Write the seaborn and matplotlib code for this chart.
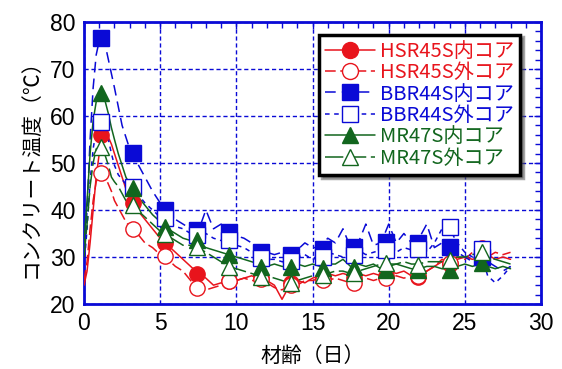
import matplotlib
matplotlib.use("Agg")
import matplotlib.pyplot as plt
from matplotlib.lines import Line2D
from matplotlib.ticker import MultipleLocator
from matplotlib import font_manager
import seaborn as sns
import numpy as np

# ---- data ----
t = [0.0, 0.2, 0.4, 0.6, 0.8, 1.0, 1.2, 1.4, 1.6, 1.8, 2.0, 2.25, 2.5, 2.75, 3.0,
     3.5, 4.0, 4.5, 5.0, 5.5, 6.0, 6.5, 7.0, 7.5, 8.0, 8.5, 9.0, 9.5, 10.0,
     10.5, 11.0, 11.5, 12.0, 12.5, 13.0, 13.5, 14.0, 14.5, 15.0, 15.5, 16.0,
     16.5, 17.0, 17.5, 18.0, 18.5, 19.0, 19.5, 20.0, 20.5, 21.0, 21.5, 22.0,
     22.5, 23.0, 23.5, 24.0, 24.5, 25.0, 25.5, 26.0, 26.5, 27.0, 27.5, 28.0]

hsr_in = [24, 27, 33, 40, 47, 52, 55, 56, 55.5, 54, 52, 49.5, 47, 44.5, 42.5,
          40, 38, 36, 34, 32.5, 31, 29.5, 28, 26.5, 25.5, 24, 24.5, 24.5, 25,
          25.5, 26, 25.5, 25, 24, 21, 24, 25, 24.5, 25.5, 26, 26.5,
          26, 26.5, 26, 26.5, 26, 26.5, 26, 27, 26.5, 27, 26, 26,
          27, 28, 29, 29, 29.5, 30, 29.5, 30, 30.5, 29.5, 30, 29.5]
hsr_out = [25, 29, 36, 42, 46, 47.5, 48, 47, 45.5, 44, 42, 40.5, 39, 37.5, 36.5,
           35, 33, 32, 30.5, 29.5, 28, 27, 25, 23.5, 23, 23.5, 24, 24.5, 25,
           25.5, 25, 25, 24.5, 23.5, 23, 24, 24, 25, 25, 25.5, 25,
           25.5, 25, 24.5, 25, 25.5, 25, 25.5, 25, 26, 25.5, 26, 26.5,
           27, 28, 29.5, 29, 30, 29.5, 31, 31.5, 30, 31, 30.5, 31]
bbr_in = [30, 40, 55, 66, 73, 76, 76.5, 75, 72, 69, 66, 62, 58, 55.5, 53,
          50, 47, 44, 41.5, 39.5, 38, 37, 36, 35.5, 40, 36, 37, 35.5, 34.5,
          34, 33, 31.5, 31, 30.5, 31, 30.5, 31.5, 33, 32, 32, 34,
          33, 36, 32, 33, 37, 32.5, 33, 37, 33, 35, 33, 34,
          37, 32, 33, 32, 31, 30, 29, 30, 29, 28, 27, 28]
bbr_out = [28, 36, 46, 53, 57, 58.5, 58.8, 57.5, 55, 52, 49.5, 47.5, 46.5, 45.5, 45,
           43.5, 41.5, 40, 38.5, 37.5, 36.5, 36, 35, 34.5, 35, 34, 33.5, 33.5, 32.5,
           32, 31, 30, 29.5, 29.5, 29, 29, 30, 30.5, 29.5, 30, 31,
           30.5, 30, 30.5, 31.5, 30.5, 31, 31.5, 31.5, 31, 32, 31.5, 32,
           31, 33, 36, 36, 33, 31, 30, 31.5, 26, 24.5, 26, 28]
mr_in = [33, 42, 52, 59, 63, 64.5, 64.8, 63, 60.5, 57.5, 55, 52, 49.5, 47, 45.5,
         43, 41, 39, 37.5, 36, 35, 34, 33.5, 33, 32, 31.5, 31, 30.5, 30,
         29.5, 29, 28.5, 28, 28.5, 28, 28, 28.5, 28, 28.5, 28, 28.5,
         28.5, 29.5, 28, 28.5, 28, 28.5, 27.5, 28, 28.5, 28, 27.5, 27.5,
         28, 28, 27.5, 27.5, 28, 28.5, 28, 28.5, 28, 27.5, 28, 27.5]
mr_out = [30, 37, 45, 50, 53, 53.5, 53, 51.5, 49.5, 47, 46, 45, 43.5, 42, 41.5,
          40, 38.5, 37, 35.5, 34.5, 33.5, 32.5, 32.5, 32, 31, 30, 29, 28, 27.5,
          27, 26.5, 26, 26, 25.5, 25, 24.5, 25, 25.5, 26, 26, 26.5,
          27, 27, 26.5, 27, 27.5, 28, 28.5, 28.5, 28.5, 29, 28.5, 28.5,
          29, 29, 29, 29.5, 30, 30, 30.5, 31, 30, 29.5, 29, 28.5]

mday = [1.1, 3.2, 5.3, 7.4, 9.5, 11.6, 13.6, 15.7, 17.7, 19.8, 21.9, 24.0, 26.1]
hsr_in_m = [56, 41.4, 33, 26.4, 25, 25.5, 24.5, 25.5, 25.5, 26, 25.8, 28.5, 30]
hsr_out_m = [47.8, 35.9, 30.2, 23.5, 25, 25.3, 24, 25.1, 24.4, 25.5, 26, 28.8, 32]
bbr_in_m = [76.7, 52.2, 40, 35.7, 35.4, 31.1, 30.4, 31.8, 32.2, 33.2, 32.9, 32.2, 30]
bbr_out_m = [58.8, 45, 38.3, 34.7, 33.6, 29.8, 29.2, 30.1, 30.4, 31.5, 31.8, 36.4, 31.8]
mr_in_m = [64.8, 44.6, 36.4, 33.6, 30.4, 27.9, 27.9, 27.6, 27.8, 27.2, 27.2, 27.2, 28.7]
mr_out_m = [53.5, 41, 35, 32.1, 27.9, 25.8, 24.5, 26.2, 26.5, 28.7, 28.3, 29.4, 31.1]

labels = ["HSR45S内コア", "HSR45S外コア", "BBR44S内コア", "BBR44S外コア", "MR47S内コア", "MR47S外コア"]
xticks = [0, 5, 10, 15, 20, 25, 30]
yticks = [20, 30, 40, 50, 60, 70, 80]

RED, BLUE, GREEN = "#e8141c", "#0a0ad6", "#12661e"
series = [
    (hsr_in, hsr_in_m, RED, "-", "o", True),
    (hsr_out, hsr_out_m, RED, (0, (7, 3)), "o", False),
    (bbr_in, bbr_in_m, BLUE, (0, (7, 4)), "s", True),
    (bbr_out, bbr_out_m, BLUE, (0, (3, 3)), "s", False),
    (mr_in, mr_in_m, GREEN, "-", "^", True),
    (mr_out, mr_out_m, GREEN, (0, (12, 3)), "^", False),
]

sns.set_style("white")
plt.rcParams["font.family"] = ["Noto Sans CJK JP", "DejaVu Sans"]
plt.rcParams["text.color"] = "black"
plt.rcParams["axes.labelcolor"] = "black"

names = {f.name for f in font_manager.fontManager.ttflist}
tickfam = [n for n in ["Liberation Sans Narrow", "Liberation Sans", "DejaVu Sans"] if n in names]

fig = plt.figure(figsize=(5.62, 3.69), dpi=100)
ax = fig.add_axes([84 / 562, 1 - 304 / 369, 457 / 562, 282 / 369])

for vals, _, c, ls, _, _ in series:
    sns.lineplot(x=t, y=vals, color=c, linestyle=ls, linewidth=1.1, ax=ax, zorder=3)

for _, mv, c, _, mk, filled in series:
    ms = 11 if mk != "^" else 11.5
    sns.lineplot(x=mday, y=mv, color=c, linestyle="", marker=mk, markersize=ms,
                 markerfacecolor=(c if filled else "white"), markeredgecolor=c,
                 markeredgewidth=1.0, ax=ax, zorder=4)

ax.set_xlim(0, 30)
ax.set_ylim(20, 80)
ax.set_xticks(xticks)
ax.set_yticks(yticks)
ax.set_xticklabels([str(v) for v in xticks], fontfamily=tickfam, fontsize=16.5, color="black")
ax.set_yticklabels([str(v) for v in yticks], fontfamily=tickfam, fontsize=16.5, color="black")
ax.xaxis.set_minor_locator(MultipleLocator(1))
ax.yaxis.set_minor_locator(MultipleLocator(2))
ax.grid(True, which="major", color=BLUE, linestyle=(0, (3, 2)), linewidth=1.0)
ax.tick_params(which="both", direction="in", top=True, right=True, color=BLUE, width=1.0,
               labelcolor="black")
ax.tick_params(which="major", length=5, pad=6)
ax.tick_params(which="minor", length=4)
for s in ax.spines.values():
    s.set_color(BLUE)
    s.set_linewidth(2.0)

ax.set_xlabel("材齢（日）", fontsize=15, labelpad=7, color="black")
ax.set_ylabel("コンクリート温度（℃）", fontsize=15, labelpad=6, color="black")

handles = []
for _, _, c, ls, mk, filled in series:
    handles.append(Line2D([0], [0], color=c, linestyle=ls, linewidth=1.1, marker=mk,
                          markersize=11.5, markerfacecolor=(c if filled else "white"),
                          markeredgecolor=c, markeredgewidth=1.0))
leg = ax.legend(handles, labels, loc="upper right", bbox_to_anchor=(0.955, 0.955),
                fontsize=14.5, frameon=True, fancybox=False, shadow=True,
                handlelength=2.5, handletextpad=0.25, labelspacing=0.02,
                borderpad=0.3, borderaxespad=0.0)
leg.get_frame().set_edgecolor("black")
leg.get_frame().set_linewidth(2.5)
for txt, (_, _, c, _, _, _) in zip(leg.get_texts(), series):
    txt.set_color(c)
leg.set_zorder(10)

fig.savefig("out.png", dpi=100)
